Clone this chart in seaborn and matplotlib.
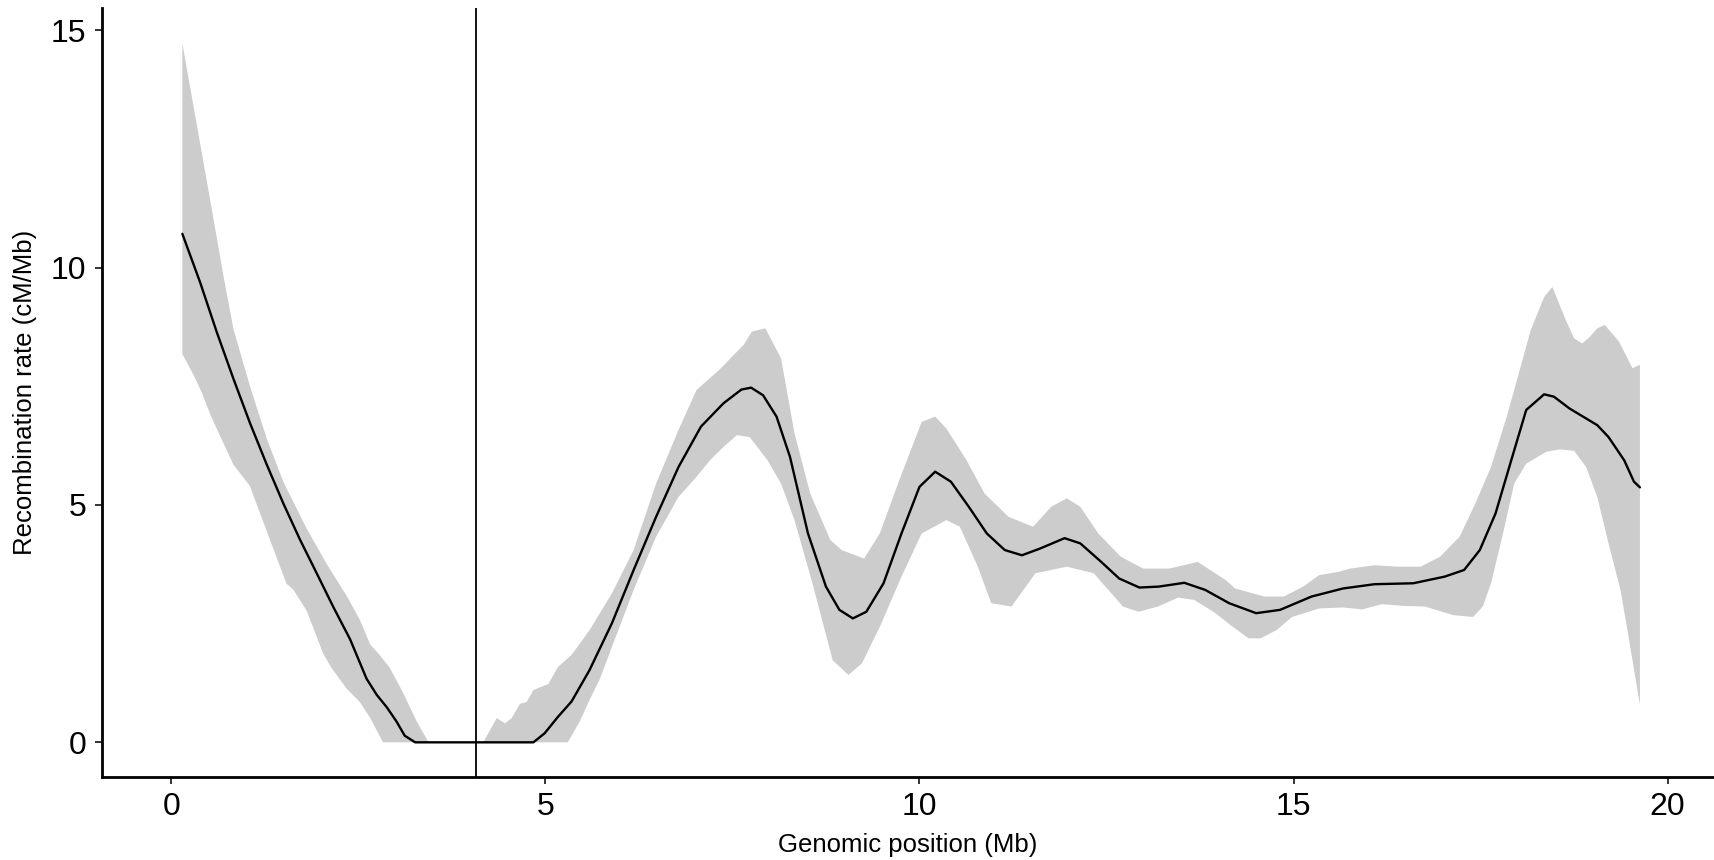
import numpy as np
import matplotlib
matplotlib.use("Agg")
import matplotlib.pyplot as plt
import seaborn as sns

# ---- data ----
line_x = [0.148, 0.385, 0.608, 0.83, 1.053, 1.276, 1.498, 1.72, 1.944, 2.166, 2.39, 2.61, 2.746,
          2.88, 3.01, 3.12, 3.26, 4.84, 4.99, 5.17, 5.35, 5.59, 5.89, 6.18, 6.48, 6.78, 7.08,
          7.38, 7.62, 7.75, 7.91, 8.09, 8.27, 8.51, 8.75, 8.93, 9.11, 9.29, 9.52, 9.76, 10.0,
          10.21, 10.42, 10.66, 10.90, 11.14, 11.37, 11.61, 11.94, 12.15, 12.43, 12.67, 12.94,
          13.20, 13.54, 13.82, 14.14, 14.50, 14.82, 15.24, 15.66, 16.08, 16.60, 17.02, 17.28,
          17.49, 17.70, 17.91, 18.11, 18.35, 18.48, 18.69, 19.06, 19.21, 19.42, 19.55, 19.63]
line_y = [10.71, 9.69, 8.64, 7.66, 6.72, 5.85, 5.03, 4.27, 3.56, 2.85, 2.17, 1.34, 1.0,
          0.74, 0.44, 0.14, 0.0, 0.0, 0.19, 0.54, 0.86, 1.52, 2.51, 3.63, 4.75, 5.80, 6.65,
          7.14, 7.43, 7.47, 7.31, 6.86, 6.01, 4.40, 3.28, 2.79, 2.61, 2.75, 3.35, 4.40, 5.38,
          5.70, 5.49, 4.96, 4.40, 4.05, 3.94, 4.08, 4.30, 4.19, 3.80, 3.45, 3.26,
          3.28, 3.36, 3.21, 2.93, 2.72, 2.79, 3.07, 3.24, 3.33, 3.35, 3.49, 3.63,
          4.05, 4.82, 5.94, 7.0, 7.33, 7.28, 7.03, 6.68, 6.43, 5.94, 5.49, 5.37]

upper_x = [0.148, 0.52, 0.70, 0.83, 1.05, 1.28, 1.50, 1.81, 2.08, 2.35, 2.52, 2.66, 2.79, 2.92,
           3.10, 3.28, 3.44, 4.17, 4.35, 4.46, 4.55, 4.66, 4.75, 4.84, 5.04, 5.17, 5.35, 5.59,
           5.89, 6.18, 6.48, 6.78, 7.02, 7.32, 7.65, 7.76, 7.94, 8.15, 8.33, 8.54, 8.81, 8.96,
           9.26, 9.47, 9.73, 10.03, 10.21, 10.36, 10.63, 10.87, 11.19, 11.52, 11.76, 11.97,
           12.15, 12.39, 12.69, 12.99, 13.34, 13.72, 14.09, 14.22, 14.61, 14.87, 15.13, 15.34,
           15.60, 15.76, 16.08, 16.39, 16.70, 16.96, 17.22, 17.43, 17.64, 17.85, 18.06, 18.17,
           18.35, 18.46, 18.64, 18.75, 18.86, 18.96, 19.06, 19.16, 19.35, 19.53, 19.63]
upper_y = [14.72, 11.42, 9.80, 8.71, 7.51, 6.38, 5.48, 4.50, 3.75, 3.07, 2.58, 2.06, 1.83, 1.57,
           1.04, 0.44, 0.0, 0.0, 0.51, 0.40, 0.51, 0.81, 0.85, 1.10, 1.23, 1.59, 1.84, 2.36,
           3.14, 4.05, 5.45, 6.58, 7.42, 7.84, 8.37, 8.65, 8.72, 8.09, 6.51, 5.24, 4.26, 4.05,
           3.87, 4.40, 5.52, 6.75, 6.86, 6.61, 5.94, 5.24, 4.75, 4.54, 4.96, 5.14,
           4.96, 4.40, 3.91, 3.66, 3.66, 3.80, 3.42, 3.24, 3.07, 3.07, 3.28, 3.52,
           3.59, 3.66, 3.73, 3.70, 3.70, 3.91, 4.33, 5.03, 5.80, 6.86, 8.05, 8.68,
           9.38, 9.59, 8.89, 8.51, 8.40, 8.54, 8.72, 8.79, 8.44, 7.88, 7.95]

lower_x = [0.148, 0.30, 0.41, 0.52, 0.65, 0.83, 1.05, 1.28, 1.54, 1.63, 1.81, 2.03, 2.14, 2.35,
           2.52, 2.66, 2.83, 5.30, 5.46, 5.59, 5.73, 5.89, 6.18, 6.48, 6.78, 7.02, 7.20, 7.38,
           7.56, 7.73, 7.97, 8.15, 8.33, 8.57, 8.84, 9.05, 9.23, 9.47, 9.76, 10.03, 10.36, 10.54,
           10.78, 10.96, 11.23, 11.55, 11.97, 12.33, 12.72, 12.93, 13.19, 13.46, 13.67, 13.93,
           14.19, 14.40, 14.56, 14.77, 14.98, 15.34, 15.66, 15.92, 16.18, 16.50, 16.76, 17.13,
           17.40, 17.53, 17.64, 17.80, 17.95, 18.11, 18.38, 18.56, 18.75, 18.91, 19.06, 19.21,
           19.37, 19.47, 19.63]
lower_y = [8.18, 7.73, 7.36, 6.91, 6.46, 5.85, 5.40, 4.43, 3.34, 3.22, 2.77, 1.87, 1.57, 1.12,
           0.85, 0.51, 0.0, 0.0, 0.44, 0.89, 1.34, 2.01, 3.21, 4.33, 5.17, 5.59, 5.94, 6.22,
           6.47, 6.43, 5.94, 5.45, 4.68, 3.35, 1.73, 1.42, 1.66, 2.43, 3.49, 4.40, 4.68, 4.54,
           3.70, 2.93, 2.86, 3.56, 3.70, 3.56, 2.86, 2.75, 2.86, 3.05, 3.00, 2.75,
           2.43, 2.19, 2.19, 2.36, 2.64, 2.82, 2.84, 2.80, 2.91, 2.87, 2.86, 2.68,
           2.64, 2.86, 3.35, 4.40, 5.45, 5.87, 6.12, 6.17, 6.14, 5.80, 5.17, 4.19,
           3.21, 2.30, 0.79]

centromere_x = 4.07
x_ticks = [0, 5, 10, 15, 20]
y_ticks = [0, 5, 10, 15]
x_label = "Genomic position (Mb)"
y_label = "Recombination rate (cM/Mb)"

# ---- style ----
sns.set_style("white")
plt.rcParams["font.family"] = ["Liberation Sans", "DejaVu Sans"]

W, H = 1714, 860
fig = plt.figure(figsize=(W / 100, H / 100), dpi=100)
ax = fig.add_axes([101.7 / W, (H - 776.7) / H, (W - 101.7) / W, (776.7 - 8.3) / H])

# ribbon as polygon (upper left->right, lower right->left)
poly_x = np.concatenate([upper_x, lower_x[::-1]])
poly_y = np.concatenate([upper_y, lower_y[::-1]])
ax.fill(poly_x, poly_y, color="#CCCCCC", linewidth=0, zorder=1)

sns.lineplot(x=line_x, y=line_y, color="black", linewidth=1.7, ax=ax, zorder=2)
ax.axvline(centromere_x, color="black", linewidth=1.3, zorder=3)

ax.set_xlim(-0.93, 20.62)
ax.set_ylim(-0.724, 15.46)
ax.set_xticks(x_ticks)
ax.set_yticks(y_ticks)
ax.set_xticklabels([str(t) for t in x_ticks])
ax.set_yticklabels([str(t) for t in y_ticks])

for side in ("top", "right"):
    ax.spines[side].set_visible(False)
for side in ("left", "bottom"):
    ax.spines[side].set_linewidth(2.0)
    ax.spines[side].set_color("black")

ax.tick_params(axis="both", which="major", length=5, width=1.4, color="#333333",
               labelsize=23, labelcolor="black", pad=6, direction="out",
               bottom=True, left=True)

ax.set_xlabel(x_label, fontsize=18.5, color="black", labelpad=8)
ax.set_ylabel(y_label, fontsize=18.5, color="black", labelpad=10)

fig.savefig("out.png", dpi=100)
